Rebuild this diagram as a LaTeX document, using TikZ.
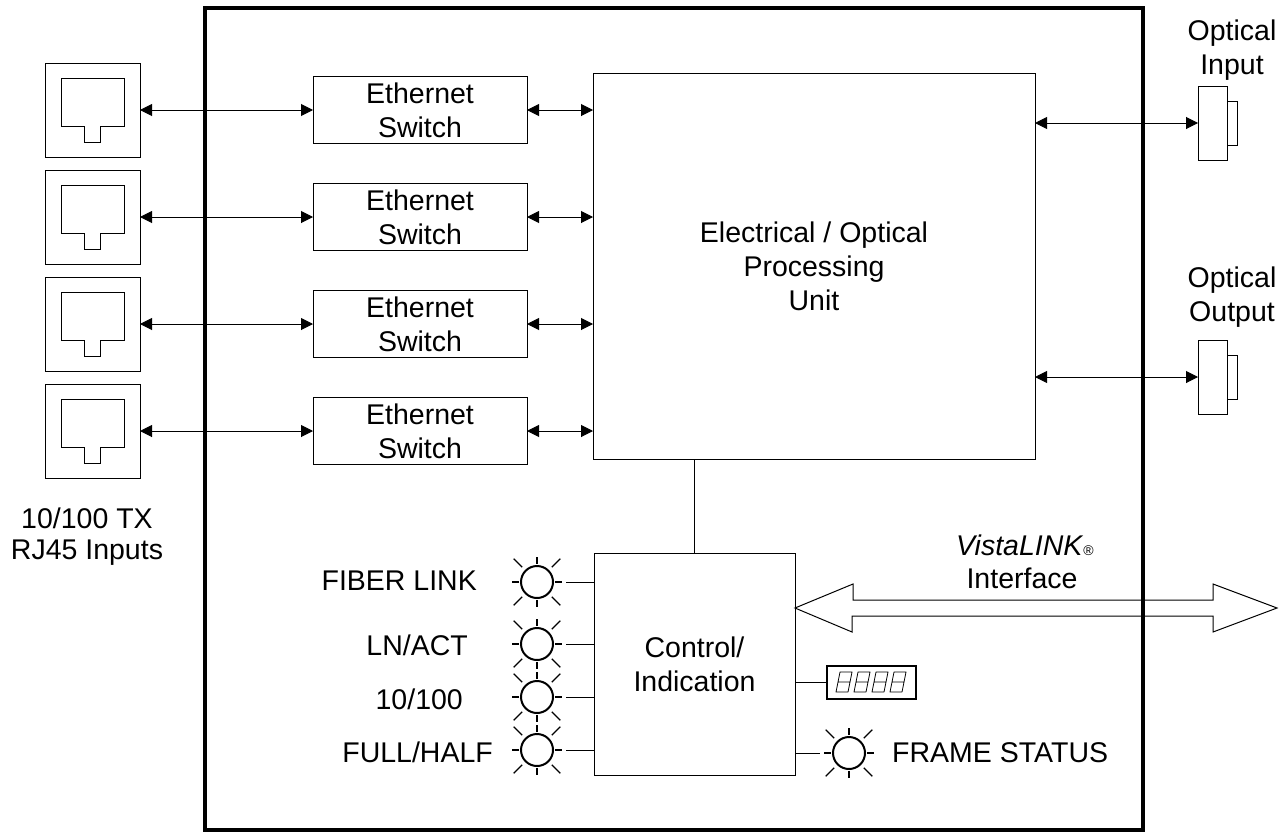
\documentclass[tikz,border=0pt]{standalone}
\usepackage{fontspec}
\setmainfont{Liberation Sans}
\usetikzlibrary{arrows.meta}

\tikzset{
  every node/.style={font=\fontsize{28.5}{34}\selectfont, align=center},
  box/.style={draw, line width=1pt, inner sep=0pt, outer sep=0pt},
  lbl/.style={inner sep=0pt},
  wire/.style={line width=1pt},
  link/.style={line width=1pt, {Triangle[length=12pt,width=12pt]}-{Triangle[length=12pt,width=12pt]}},
  frame/.style={line width=3.5pt},
  ledring/.style={draw, circle, line width=2pt, minimum size=32pt, inner sep=0pt, outer sep=0pt},
  ray/.style={line width=1.2pt},
  seg/.style={line width=0.8pt, line join=round},
  pics/ledlamp/.style={code={
    \node[ledring] (-c) at (0,0) {};
    \foreach \a in {0,90,180,270} \draw[ray] (\a:18) -- (\a:25);
    \foreach \a in {45,135,225,315} \draw[ray] (\a:21) -- (\a:33);
  }}
}

\begin{document}
\begin{tikzpicture}[x=1pt, y=-1pt]
\useasboundingbox (0,0) rectangle (1281,835);
\draw[frame] (205,8) rectangle (1143,830);

% RJ45 jacks
\node[box, minimum width=95pt, minimum height=94pt] (j1) at (92.5,110) {};
\node[box, minimum width=95pt, minimum height=94pt] (j2) at (92.5,217) {};
\node[box, minimum width=95pt, minimum height=94pt] (j3) at (92.5,324) {};
\node[box, minimum width=95pt, minimum height=94pt] (j4) at (92.5,431) {};
\draw[wire] (61,78) -- (124,78) -- (124,126) -- (100,126) -- (100,142) -- (84,142) -- (84,126) -- (61,126) -- cycle;
\draw[wire] (61,185) -- (124,185) -- (124,233) -- (100,233) -- (100,249) -- (84,249) -- (84,233) -- (61,233) -- cycle;
\draw[wire] (61,292) -- (124,292) -- (124,340) -- (100,340) -- (100,356) -- (84,356) -- (84,340) -- (61,340) -- cycle;
\draw[wire] (61,399) -- (124,399) -- (124,447) -- (100,447) -- (100,463) -- (84,463) -- (84,447) -- (61,447) -- cycle;
\node[lbl, font=\fontsize{28.5}{31}\selectfont] (rjlbl) at (87,537) {10/100 TX\\RJ45 Inputs};

% switches and processing unit
\node[box, minimum width=214pt, minimum height=67pt] (s1) at (420,110) {Ethernet\\Switch};
\node[box, minimum width=214pt, minimum height=67pt] (s2) at (420,217) {Ethernet\\Switch};
\node[box, minimum width=214pt, minimum height=67pt] (s3) at (420,324) {Ethernet\\Switch};
\node[box, minimum width=214pt, minimum height=67pt] (s4) at (420,431) {Ethernet\\Switch};
\node[box, minimum width=442pt, minimum height=386pt] (pu) at (814,266) {Electrical / Optical\\Processing\\Unit};

\draw[link] (j1.east) -- (s1.west);
\draw[link] (j2.east) -- (s2.west);
\draw[link] (j3.east) -- (s3.west);
\draw[link] (j4.east) -- (s4.west);
\draw[link] (s1.east) -- (s1.east -| pu.west);
\draw[link] (s2.east) -- (s2.east -| pu.west);
\draw[link] (s3.east) -- (s3.east -| pu.west);
\draw[link] (s4.east) -- (s4.east -| pu.west);

% optical ports
\node[box, minimum width=29pt, minimum height=74pt] (oin) at (1212.5,123) {};
\node[box, minimum width=10pt, minimum height=44pt, anchor=west] (oint) at (oin.east) {};
\node[box, minimum width=29pt, minimum height=74pt] (oout) at (1212.5,377) {};
\node[box, minimum width=10pt, minimum height=44pt, anchor=west] (ooutt) at (oout.east) {};
\node[lbl] (oinlbl) at (1232,50) {Optical\\Input};
\node[lbl] (ooutlbl) at (1232,297) {Optical\\Output};
\draw[link] (pu.east |- oin.west) -- (oin.west);
\draw[link] (pu.east |- oout.west) -- (oout.west);

% control / indication
\node[box, minimum width=201pt, minimum height=222pt] (ctrl) at (694.5,664) {Control/\\Indication};
\draw[wire] (pu.south -| ctrl.north) -- (ctrl.north);

\pic (l1) at (537,582) {ledlamp};
\pic (l2) at (537,644) {ledlamp};
\pic (l3) at (537,697) {ledlamp};
\pic (l4) at (537,750) {ledlamp};
\pic (l5) at (849,753) {ledlamp};
\draw[wire, shorten <=13pt] (l1-c.east) -- (l1-c.east -| ctrl.west);
\draw[wire, shorten <=13pt] (l2-c.east) -- (l2-c.east -| ctrl.west);
\draw[wire, shorten <=13pt] (l3-c.east) -- (l3-c.east -| ctrl.west);
\draw[wire, shorten <=13pt] (l4-c.east) -- (l4-c.east -| ctrl.west);
\draw[wire, shorten >=13pt] (ctrl.east |- l5-c.west) -- (l5-c.west);
\node[lbl, anchor=east] (fiber) at (477,581) {FIBER LINK};
\node[lbl, anchor=east] (lnact) at (468,645) {LN/ACT};
\node[lbl, anchor=east] (speed) at (463,699) {10/100};
\node[lbl, anchor=east] (duplex) at (493,752) {FULL/HALF};
\node[lbl, anchor=west] (frame) at (892,753) {FRAME STATUS};

% display
\node[box, line width=1.3pt, minimum width=89pt, minimum height=33pt] (disp) at (871.5,682.5) {};
\draw[wire] (ctrl.east |- disp.west) -- (disp.west);
\draw[seg] (836,692) -- (848,692) -- (852,672) -- (840,672) -- cycle (838,682) -- (850,682);
\draw[seg] (854,692) -- (866,692) -- (870,672) -- (858,672) -- cycle (856,682) -- (868,682);
\draw[seg] (872,692) -- (884,692) -- (888,672) -- (876,672) -- cycle (874,682) -- (886,682);
\draw[seg] (890,692) -- (902,692) -- (906,672) -- (894,672) -- cycle (892,682) -- (904,682);

% VistaLINK interface
\coordinate (vtip) at (1277,608);
\draw[wire] (ctrl.east |- vtip) -- ++(58,-24) -- ++(0,16) -- (1213,600) -- ++(0,-16) -- (vtip)
  -- ++(-64,24) -- ++(0,-16) -- (852,616) -- ++(0,16) -- cycle;
\node[lbl] (vista) at (1025,545) {\textit{VistaLINK}{\fontsize{14}{14}\selectfont ®}};
\node[lbl] (iface) at (1022,578) {Interface};
\end{tikzpicture}
\end{document}
